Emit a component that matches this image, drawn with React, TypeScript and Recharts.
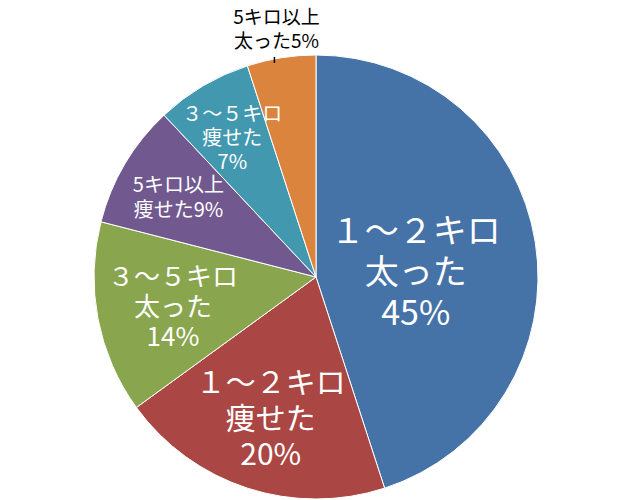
import { PieChart, Pie, Cell } from 'recharts'

const categories = [
  '1～2キロ太った',
  '1～2キロ痩せた',
  '3～5キロ太った',
  '5キロ以上痩せた',
  '3～5キロ痩せた',
  '5キロ以上太った',
]
const values = [45, 20, 14, 9, 7, 5]
const labelLines = [
  ['１～２キロ', '太った'],
  ['１～２キロ', '痩せた'],
  ['３～５キロ', '太った'],
  ['5キロ以上', '痩せた'],
  ['３～５キロ', '痩せた'],
  ['5キロ以上', '太った'],
]
const colors = ['#4572A7', '#AA4643', '#89A54E', '#71588F', '#4198AF', '#DB843D']

const data = categories.map((name, i) => ({ name, value: values[i] }))

// per-slice label layout: radius factor, nudge, font size, line height, percent on own line
const labelStyle = [
  { r: 0.455, dy: 8, size: 34, lh: 41, own: true },
  { r: 0.66, dy: 0, size: 30, lh: 36, own: true },
  { r: 0.656, dy: 0, size: 26, lh: 30, own: true },
  { r: 0.72, dy: 0, size: 20, lh: 25, own: false },
  { r: 0.74, dy: 0, size: 20, lh: 24, own: true },
  { r: 0, dy: 0, size: 19, lh: 23.5, own: false },
]

const RADIAN = Math.PI / 180
const FONT = '"Noto Sans CJK JP", "Noto Sans", sans-serif'

const renderLabel = (props: any) => {
  const { cx, cy, midAngle, outerRadius, index, value } = props
  const st = labelStyle[index]
  const pct = `${value}%`
  const lines = st.own
    ? [...labelLines[index], pct]
    : [labelLines[index][0], labelLines[index][1] + pct]
  const outside = index === 5
  const r = outside ? outerRadius + 31 : outerRadius * st.r
  const x = cx + r * Math.cos(-midAngle * RADIAN)
  const y = cy + r * Math.sin(-midAngle * RADIAN) + st.dy
  const top = y - ((lines.length - 1) * st.lh) / 2
  let tick = null
  if (outside) {
    const tx = x - 2
    const edgeY = cy - Math.sqrt(outerRadius * outerRadius - (tx - cx) * (tx - cx))
    tick = <line x1={tx} y1={edgeY - 2} x2={tx} y2={edgeY + 4} stroke="#000" strokeWidth={1.5} />
  }
  return (
    <g key={`lbl-${index}`}>
      {tick}
      <text
        x={x}
        y={top}
        textAnchor="middle"
        dominantBaseline="central"
        fill={outside ? '#000' : '#fff'}
        fontSize={st.size}
        fontFamily={FONT}
      >
        {lines.map((t, i) => (
          <tspan key={i} x={x} y={top + i * st.lh}>
            {t}
          </tspan>
        ))}
      </text>
    </g>
  )
}

export default function App() {
  return (
    <div style={{ position: 'absolute', left: 0, top: 0, width: 640, height: 500, background: '#fff' }}>
      <PieChart width={640} height={500} margin={{ top: 0, right: 0, bottom: 0, left: 0 }}>
        <Pie
          data={data}
          dataKey="value"
          nameKey="name"
          cx={316}
          cy={277}
          outerRadius={222}
          startAngle={90}
          endAngle={-270}
          stroke="#fff"
          strokeWidth={1}
          label={renderLabel}
          labelLine={false}
          isAnimationActive={false}
        >
          {data.map((entry, index) => (
            <Cell key={`cell-${index}`} fill={colors[index]} />
          ))}
        </Pie>
      </PieChart>
    </div>
  )
}
